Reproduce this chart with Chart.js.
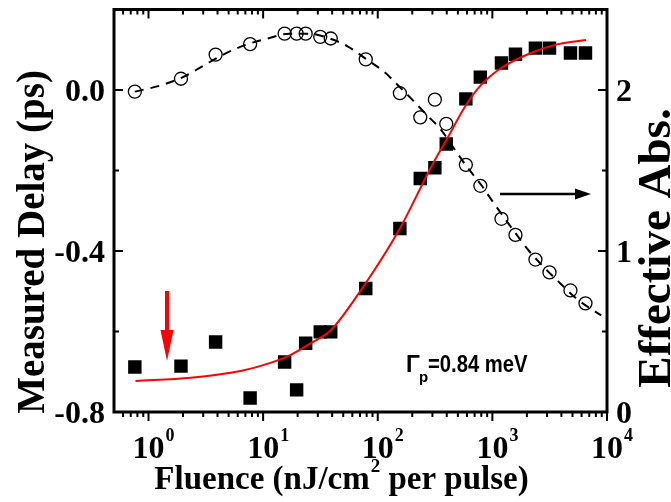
<!DOCTYPE html>
<html>
<head>
<meta charset="utf-8">
<script src="https://cdn.jsdelivr.net/npm/chart.js@4"></script>
<style>
  body { margin: 0; background: #fff; }
</style>
</head>
<body>
<canvas id="chart" width="671" height="502"></canvas>
<script>
// measured points (fluence in nJ/cm^2 per pulse)
const fluence = [0.76, 1.92, 3.85, 7.7, 15.4, 19.6, 23.5, 31.5, 38.9, 78.6, 156, 235, 315, 396, 587, 785, 1200, 1590, 2375, 3150, 4800, 6490];
const delay = [-0.688, -0.686, -0.626, -0.765, -0.676, -0.745, -0.629, -0.601, -0.601, -0.493, -0.344, -0.220, -0.193, -0.134, -0.022, 0.032, 0.067, 0.089, 0.104, 0.104, 0.092, 0.092];
const effAbs = [1.99, 2.07, 2.22, 2.285, 2.35, 2.35, 2.35, 2.33, 2.32, 2.19, 1.98, 1.83, 1.94, 1.79, 1.535, 1.405, 1.20, 1.10, 0.947, 0.867, 0.755, 0.675];

// red fit curve (delay)
const fitX = [0.77, 2.33, 6.36, 11.6, 17.4, 26, 38.9, 71, 156, 290, 408, 587, 794, 1186, 2168, 3733, 6560];
const fitDelay = [-0.723, -0.715, -0.698, -0.678, -0.658, -0.629, -0.597, -0.498, -0.344, -0.193, -0.118, -0.038, 0.012, 0.054, 0.092, 0.114, 0.124];

// dashed guide (effective absorption)
const guideX = [0.76, 1.3, 2, 3, 4.5, 7, 11, 17, 25, 38, 55, 80, 115, 150, 200, 272, 350, 470, 590, 800, 1000, 1450, 2090, 2900, 3900, 5500, 8900];
const guideAbs = [1.99, 2.03, 2.08, 2.15, 2.22, 2.28, 2.32, 2.35, 2.35, 2.32, 2.27, 2.19, 2.11, 2.03, 1.94, 1.84, 1.76, 1.63, 1.53, 1.41, 1.31, 1.15, 1.0, 0.89, 0.80, 0.70, 0.60];

const xDecades = [0, 1, 2, 3, 4];
const yMajor = [-0.8, -0.4, 0.0];
const yMajorLabels = ['-0.8', '-0.4', '0.0'];
const yMinor = [-0.6, -0.2];
const y2Major = [0, 1, 2];
const y2Minor = [0.5, 1.5];

const pts = (xs, ys) => xs.map((v, i) => ({ x: v, y: ys[i] }));

const SERIF = '"Liberation Serif", "Times New Roman", serif';
const SANS = '"Liberation Sans", Arial, sans-serif';

const frame = {
  id: 'frame',
  afterDraw(chart) {
    const { ctx, chartArea: a, scales } = chart;
    const sx = scales.x, sy = scales.y, sy2 = scales.y2;
    ctx.save();
    ctx.strokeStyle = '#000';
    ctx.fillStyle = '#000';

    // ticks
    ctx.lineWidth = 2;
    const seg = (x1, y1, x2, y2) => { ctx.beginPath(); ctx.moveTo(x1, y1); ctx.lineTo(x2, y2); ctx.stroke(); };
    const xMinor = [0.6, 0.7, 0.8, 0.9];
    for (let d = 0; d < 4; d++) for (let m = 2; m <= 9; m++) xMinor.push(m * Math.pow(10, d));
    xMinor.forEach(v => {
      const px = sx.getPixelForValue(v);
      seg(px, a.bottom, px, a.bottom + 5);
      seg(px, a.top, px, a.top + 5);
    });
    xDecades.forEach(d => {
      const px = sx.getPixelForValue(Math.pow(10, d));
      seg(px, a.bottom, px, a.bottom + 9);
      seg(px, a.top, px, a.top + 9);
    });
    yMajor.forEach(v => { const py = sy.getPixelForValue(v); seg(a.left, py, a.left + 9, py); });
    yMinor.forEach(v => { const py = sy.getPixelForValue(v); seg(a.left, py, a.left + 5, py); });
    y2Major.forEach(v => { const py = sy2.getPixelForValue(v); seg(a.right, py, a.right - 9, py); });
    y2Minor.forEach(v => { const py = sy2.getPixelForValue(v); seg(a.right, py, a.right - 5, py); });

    // box
    ctx.lineWidth = 3;
    ctx.strokeRect(a.left, a.top, a.right - a.left, a.bottom - a.top);

    // tick labels
    ctx.textBaseline = 'alphabetic';
    xDecades.forEach(d => {
      const px = sx.getPixelForValue(Math.pow(10, d));
      ctx.font = 'bold 32px ' + SERIF;
      ctx.textAlign = 'center';
      ctx.fillText('10', px, 458);
      const w = ctx.measureText('10').width;
      ctx.font = 'bold 18px ' + SERIF;
      ctx.textAlign = 'left';
      ctx.fillText(String(d), px + w / 2 + 1, 441);
    });
    ctx.font = 'bold 32px ' + SERIF;
    ctx.textAlign = 'right';
    yMajor.forEach((v, i) => ctx.fillText(yMajorLabels[i], 105, sy.getPixelForValue(v) + 11));
    ctx.textAlign = 'left';
    y2Major.forEach(v => ctx.fillText(String(v), 616, sy2.getPixelForValue(v) + 11));

    // axis titles
    ctx.textAlign = 'center';
    ctx.save();
    ctx.translate(44, 242);
    ctx.rotate(-Math.PI / 2);
    ctx.font = 'bold 39px ' + SERIF;
    ctx.fillText('Measured Delay (ps)', 0, 0);
    ctx.restore();
    ctx.save();
    ctx.translate(670, 248);
    ctx.rotate(-Math.PI / 2);
    ctx.font = 'bold 47px ' + SERIF;
    ctx.fillText('Effective Abs.', 0, 0);
    ctx.restore();

    const partA = 'Fluence (nJ/cm', partB = '2', partC = ' per pulse)';
    ctx.font = 'bold 33px ' + SERIF;
    const wA = ctx.measureText(partA).width, wC = ctx.measureText(partC).width;
    ctx.font = 'bold 19px ' + SERIF;
    const wB = ctx.measureText(partB).width;
    let tx = 341 - (wA + wB + wC) / 2;
    ctx.textAlign = 'left';
    ctx.font = 'bold 33px ' + SERIF;
    ctx.fillText(partA, tx, 489);
    ctx.font = 'bold 19px ' + SERIF;
    ctx.fillText(partB, tx + wA + 1, 472);
    ctx.font = 'bold 33px ' + SERIF;
    ctx.fillText(partC, tx + wA + wB + 1, 489);

    // annotation
    ctx.font = 'bold 23px ' + SANS;
    ctx.fillText('\u0393', 406, 372);
    ctx.font = 'bold 15px ' + SANS;
    ctx.fillText('p', 419, 382);
    ctx.save();
    ctx.translate(428, 372);
    ctx.scale(0.88, 1);
    ctx.font = 'bold 23px ' + SANS;
    ctx.fillText('=0.84 meV', 0, 0);
    ctx.restore();

    // red arrow
    ctx.strokeStyle = '#ff0000';
    ctx.fillStyle = '#ff0000';
    ctx.lineWidth = 4;
    seg(167, 291, 167, 334);
    ctx.beginPath();
    ctx.moveTo(160.5, 330); ctx.lineTo(173.5, 330); ctx.lineTo(167, 361); ctx.closePath(); ctx.fill();

    // black arrow
    ctx.strokeStyle = '#000';
    ctx.fillStyle = '#000';
    ctx.lineWidth = 2.5;
    seg(500, 194, 578, 194);
    ctx.beginPath();
    ctx.moveTo(575, 188.5); ctx.lineTo(575, 199.5); ctx.lineTo(591, 194); ctx.closePath(); ctx.fill();

    ctx.restore();
  }
};

new Chart(document.getElementById('chart'), {
  type: 'scatter',
  data: {
    datasets: [{
      label: 'abs guide',
      data: pts(guideX, guideAbs),
      yAxisID: 'y2',
      showLine: true,
      borderColor: '#000',
      borderWidth: 2,
      borderDash: [9, 7],
      pointRadius: 0,
      cubicInterpolationMode: 'monotone'
    }, {
      label: 'fit',
      data: pts(fitX, fitDelay),
      yAxisID: 'y',
      showLine: true,
      borderColor: '#ff0000',
      borderWidth: 2,
      pointRadius: 0,
      cubicInterpolationMode: 'monotone'
    }, {
      label: 'Effective Abs.',
      data: pts(fluence, effAbs),
      yAxisID: 'y2',
      pointStyle: 'circle',
      pointRadius: 6.5,
      borderColor: '#000',
      borderWidth: 1.3,
      backgroundColor: 'rgba(0,0,0,0)'
    }, {
      label: 'Measured Delay',
      data: pts(fluence, delay),
      yAxisID: 'y',
      pointStyle: 'rect',
      pointRadius: 9.5,
      borderWidth: 0,
      backgroundColor: '#000'
    }]
  },
  options: {
    responsive: false,
    animation: false,
    layout: { padding: { top: 9, left: 0, right: 0, bottom: 0 } },
    plugins: { legend: { display: false }, tooltip: { enabled: false } },
    scales: {
      x: {
        type: 'logarithmic', min: 0.5, max: 10000, position: 'bottom',
        grid: { display: false }, border: { display: false }, ticks: { display: false },
        afterFit(s) { s.height = 90; }
      },
      y: {
        type: 'linear', min: -0.8, max: 0.2, position: 'left',
        grid: { display: false }, border: { display: false }, ticks: { display: false },
        afterFit(s) { s.width = 114; }
      },
      y2: {
        type: 'linear', min: 0, max: 2.5, position: 'right',
        grid: { display: false }, border: { display: false }, ticks: { display: false },
        afterFit(s) { s.width = 64; }
      }
    }
  },
  plugins: [frame]
});
</script>
</body>
</html>
